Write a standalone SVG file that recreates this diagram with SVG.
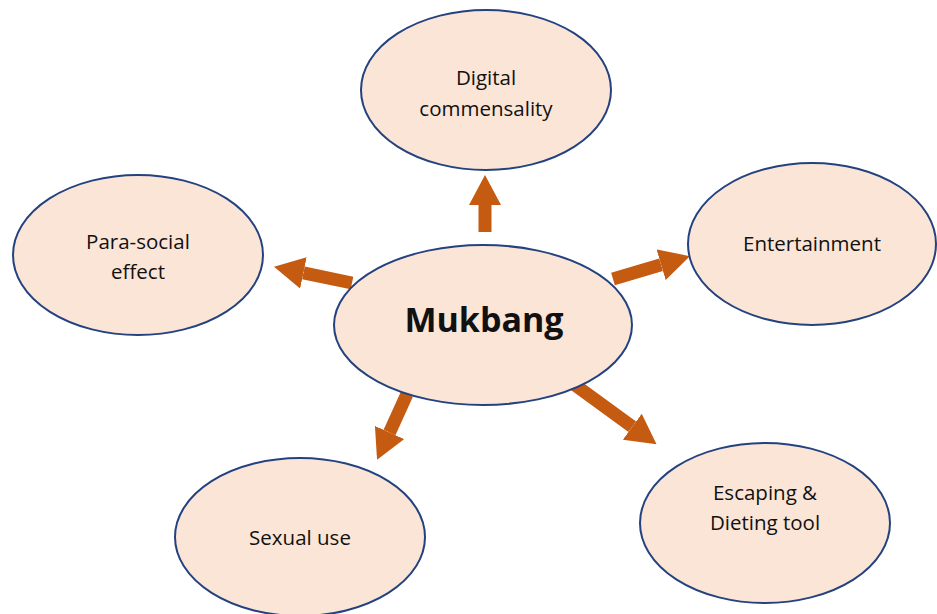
<svg xmlns="http://www.w3.org/2000/svg" width="937" height="614" viewBox="0 0 937 614">
<style>
.node ellipse{fill:#FBE5D6;stroke:#23427F;stroke-width:2}
.node text{font-family:"Open Sans","Liberation Sans",sans-serif;font-size:20.5px;fill:#111;text-anchor:middle}
.node text.main{font-size:34px;font-weight:bold}
.conn line{stroke:#C55A11;stroke-width:13;marker-end:url(#ah)}
</style>
<defs>
<marker id="ah" markerUnits="userSpaceOnUse" markerWidth="30" markerHeight="32" viewBox="0 0 30 32" refX="0" refY="16" orient="auto">
<path d="M0,0 L30,16 L0,32 z" fill="#C55A11"/>
</marker>
</defs>
<rect width="937" height="614" fill="#fff"/>
<g id="connectors" class="conn">
<line x1="485" y1="232" x2="485" y2="205"/>
<line x1="352" y1="283" x2="303.4" y2="272.9"/>
<line x1="613" y1="279" x2="661.1" y2="264.7"/>
<line x1="407" y1="394" x2="389.5" y2="432.5"/>
<line x1="575" y1="385" x2="632.3" y2="426.7"/>
</g>
<g id="mukbang" class="node">
<ellipse cx="483" cy="325" rx="149" ry="80"/>
<text class="main" x="484" y="332">Mukbang</text>
</g>
<g id="digital" class="node">
<ellipse cx="486" cy="90" rx="125" ry="80"/>
<text x="486" y="85">Digital</text>
<text x="486" y="116">commensality</text>
</g>
<g id="parasocial" class="node">
<ellipse cx="138" cy="255" rx="125" ry="80"/>
<text x="138" y="249">Para-social</text>
<text x="138" y="279">effect</text>
</g>
<g id="entertainment" class="node">
<ellipse cx="812" cy="244" rx="124" ry="81"/>
<text x="812" y="251">Entertainment</text>
</g>
<g id="sexual" class="node">
<ellipse cx="300" cy="537" rx="125" ry="79"/>
<text x="300" y="545">Sexual use</text>
</g>
<g id="escaping" class="node">
<ellipse cx="765" cy="523" rx="125" ry="80"/>
<text x="765" y="500">Escaping &amp;</text>
<text x="765" y="530">Dieting tool</text>
</g>
</svg>
